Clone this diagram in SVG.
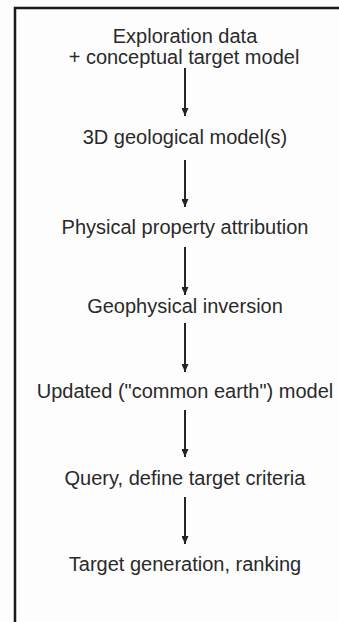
<svg xmlns="http://www.w3.org/2000/svg" width="339" height="622" viewBox="0 0 339 622">
<style>
.t{font-family:"Liberation Sans",Arial,sans-serif;font-size:20px;fill:#2a2a2a;text-anchor:middle}
.c{stroke:#262626;stroke-width:2;fill:none}
</style>
<defs>
<marker id="a" viewBox="0 0 8 7" refX="8" refY="3.5" markerWidth="8" markerHeight="7" markerUnits="userSpaceOnUse" orient="auto">
<path d="M0,0 L8,3.5 L0,7 Z" fill="#222"/>
</marker>
</defs>
<rect width="339" height="622" fill="#fdfdfd"/>
<path d="M15,623 V8 H340" stroke="#1a1a1a" stroke-width="2.5" fill="none"/>
<g id="n1"><text class="t" x="185" y="43">Exploration data</text><text class="t" x="184" y="64">+ conceptual target model</text></g>
<g id="n2"><text class="t" x="185" y="144">3D geological model(s)</text></g>
<g id="n3"><text class="t" x="185" y="234">Physical property attribution</text></g>
<g id="n4"><text class="t" x="185" y="313">Geophysical inversion</text></g>
<g id="n5"><text class="t" x="185" y="398">Updated ("common earth") model</text></g>
<g id="n6"><text class="t" x="185" y="485">Query, define target criteria</text></g>
<g id="n7"><text class="t" x="185" y="571">Target generation, ranking</text></g>
<g id="connectors">
<line class="c" x1="185" y1="68" x2="185" y2="116" marker-end="url(#a)"/>
<line class="c" x1="185" y1="160" x2="185" y2="207" marker-end="url(#a)"/>
<line class="c" x1="185" y1="247" x2="185" y2="295" marker-end="url(#a)"/>
<line class="c" x1="185" y1="323" x2="185" y2="372" marker-end="url(#a)"/>
<line class="c" x1="185" y1="410" x2="185" y2="457" marker-end="url(#a)"/>
<line class="c" x1="185" y1="497" x2="185" y2="544" marker-end="url(#a)"/>
</g>
</svg>
